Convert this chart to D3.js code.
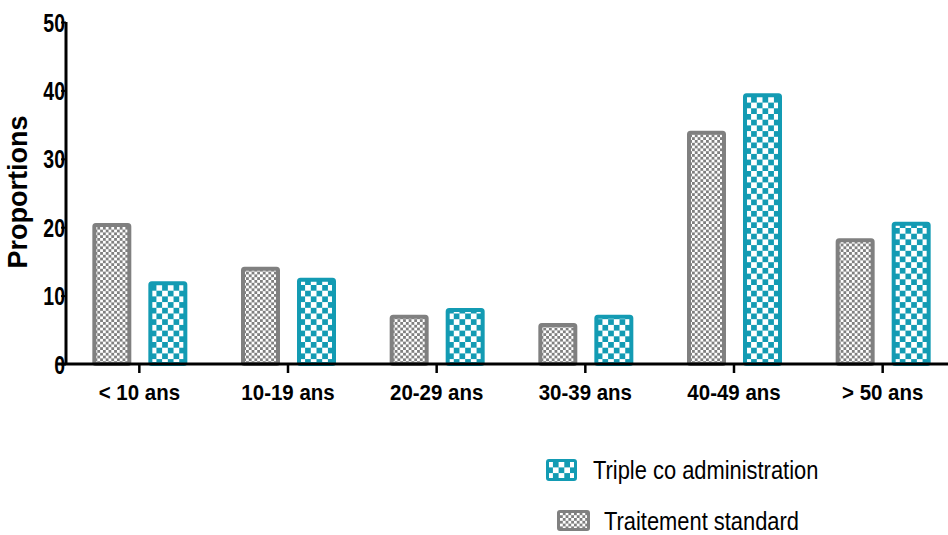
<!DOCTYPE html>
<html><head><meta charset="utf-8">
<script src="https://cdn.jsdelivr.net/npm/d3@7"></script>
<style>body{margin:0;background:#fff}svg{display:block}</style>
</head><body>
<svg id="c" width="948" height="535"></svg>
<script>
const categories = ["< 10 ans","10-19 ans","20-29 ans","30-39 ans","40-49 ans","> 50 ans"];
const seriesNames = ["Traitement standard","Triple co administration"];
const standardValues = [20.6, 14.2, 7.2, 6.0, 34.1, 18.4];
const tripleValues = [12.1, 12.6, 8.2, 7.2, 39.6, 20.8];
const yTicks = [0,10,20,30,40,50];
const yLabel = "Proportions";

const colors = {"Traitement standard":"#808080","Triple co administration":"#139bb3"};
const patternId = {"Traitement standard":"pStd","Triple co administration":"pTri"};
const svg = d3.select("#c");
const font = "'Liberation Sans',Arial,sans-serif";

// compress text horizontally (reference uses a condensed face)
function condense(sel, factor){
  sel.each(function(){
    const w = this.getComputedTextLength();
    d3.select(this).attr("textLength", w*factor).attr("lengthAdjust","spacingAndGlyphs");
  });
}

const defs = svg.append("defs");
function checker(id, color, s){
  const p = defs.append("pattern").attr("id",id).attr("patternUnits","userSpaceOnUse")
    .attr("width",2*s).attr("height",2*s);
  p.append("rect").attr("width",2*s).attr("height",2*s).attr("fill","#fff");
  p.append("rect").attr("width",s).attr("height",s).attr("fill",color);
  p.append("rect").attr("x",s).attr("y",s).attr("width",s).attr("height",s).attr("fill",color);
}
checker("pStd", colors["Traitement standard"], 2.8);
checker("pTri", colors["Triple co administration"], 5.7);

const x = d3.scaleBand().domain(categories).range([65,957]);
const xSub = d3.scaleBand().domain(seriesNames).range([-47,48]).paddingInner(0.304);
const y = d3.scaleLinear().domain([0,50]).range([364,22]);

const data = categories.map((c,i)=>({cat:c, vals:[
  {s:seriesNames[0], v:standardValues[i]},
  {s:seriesNames[1], v:tripleValues[i]}]}));

const sw = 4;
const g = svg.append("g");
g.selectAll("g.cat").data(data).join("g")
  .attr("transform",d=>`translate(${x(d.cat)+x.bandwidth()/2},0)`)
  .selectAll("rect").data(d=>d.vals).join("rect")
  .attr("x",d=>xSub(d.s)+sw/2)
  .attr("width",xSub.bandwidth()-sw)
  .attr("y",d=>y(d.v)+sw/2)
  .attr("height",d=>y(0)-y(d.v)-sw/2)
  .attr("rx",1.5)
  .attr("fill",d=>`url(#${patternId[d.s]})`)
  .attr("stroke",d=>colors[d.s])
  .attr("stroke-width",sw);

// Y axis
const yAxis = svg.append("g").attr("transform","translate(66,0)")
  .call(d3.axisLeft(y).tickValues(yTicks).tickSize(5).tickPadding(-4).tickFormat(d3.format("d")));
yAxis.select(".domain").attr("stroke","#000").attr("stroke-width",3).attr("d",`M0,${y(50)}V${y(0)+1}`);
yAxis.selectAll(".tick line").attr("stroke","#000").attr("stroke-width",2);
yAxis.selectAll(".tick text").attr("font-family",font).attr("font-weight","bold")
  .attr("font-size",25).attr("fill","#000").attr("dy","0.36em").call(condense,0.78);

// X axis
const xAxis = svg.append("g").attr("transform","translate(0,364)")
  .call(d3.axisBottom(x).tickSize(9).tickPadding(11));
xAxis.select(".domain").attr("stroke","#000").attr("stroke-width",3).attr("d","M56,0H948");
xAxis.selectAll(".tick line").attr("stroke","#000").attr("stroke-width",2.5);
xAxis.selectAll(".tick text").attr("font-family",font).attr("font-weight","bold")
  .attr("font-size",22).attr("fill","#000").call(condense,0.93);

svg.append("text").attr("transform","translate(27,192) rotate(-90)")
  .attr("text-anchor","middle").attr("font-family",font)
  .attr("font-weight","bold").attr("font-size",27).attr("fill","#000").text(yLabel);

// Legend
const legendItems = [
  {s:seriesNames[1], x:546, y:459, w:31, h:22, tx:593, ty:470},
  {s:seriesNames[0], x:557, y:510, w:33, h:21, tx:604, ty:521}
];
const lg = svg.append("g").selectAll("g").data(legendItems).join("g");
lg.append("rect").attr("x",d=>d.x+1.5).attr("y",d=>d.y+1.5).attr("width",d=>d.w-3).attr("height",d=>d.h-3)
  .attr("rx",1.5).attr("fill",d=>`url(#${patternId[d.s]})`).attr("stroke",d=>colors[d.s]).attr("stroke-width",3);
lg.append("text").attr("x",d=>d.tx).attr("y",d=>d.ty).attr("dy","0.36em")
  .attr("font-family",font).attr("font-size",25).attr("fill","#000").text(d=>d.s).call(condense,0.875);
</script>
</body></html>
